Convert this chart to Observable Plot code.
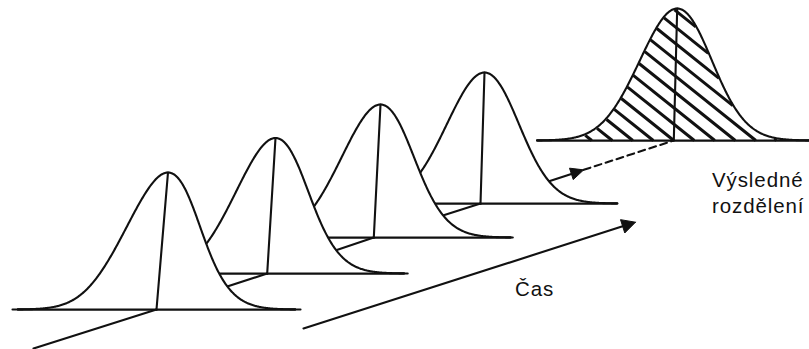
<!DOCTYPE html>
<html><head><meta charset="utf-8">
<script src="https://cdn.jsdelivr.net/npm/d3@7"></script>
<script src="https://cdn.jsdelivr.net/npm/@observablehq/plot@0.6"></script>
<style>html,body{margin:0;padding:0;background:#fff}</style>
</head><body><div id="chart"></div>
<script>
// Distributions drawn in a diagram coordinate system (809 x 349 units)
const curveNames  = ["t1", "t2", "t3", "t4", "výsledek"];
const centerX     = [156, 266.7, 373.3, 480, 673.3];
const baseY       = [309, 273, 237, 203, 140];
const peakHeight  = [137, 135.5, 133, 131, 132];
const lean        = [11.5, 8.3, 6.7, 4, 3.4];
const sigma       = [36.5, 36, 36, 36, 36];
const baseHalf    = [144, 140.5, 139, 136, 136];
const hatched     = [false, false, false, false, true];

// time axis and links
const leadStart    = [33, 348];
const arrowFrac    = 0.534;          // where the solid arrow to the result ends
const timeArrow    = [[303, 328], [635, 221.7]];
const hatchSlope   = 0.8;
const hatchStep    = 20.5;

const labelText = ["Čas", "Výsledné\nrozdělení"];
const labelX    = [514.5, 711.5];
const labelY    = [295, 212.3];

const INK = "#111";
const SW = 2.1;

function curvePoints(i) {
  const pts = [];
  for (let k = -380; k <= 380; k += 2) {
    const u = (k / 100) * sigma[i];
    const h = peakHeight[i] * Math.exp(-(u * u) / (2 * sigma[i] ** 2));
    pts.push({x: centerX[i] + u + lean[i] * h / peakHeight[i], y: baseY[i] - h});
  }
  return pts;
}

function topAt(pts, x) {
  if (x <= pts[0].x || x >= pts[pts.length - 1].x) return Infinity;
  for (let k = 1; k < pts.length; k++) {
    if (pts[k].x >= x) {
      const a = pts[k - 1], b = pts[k];
      const t = (x - a.x) / (b.x - a.x);
      return a.y + t * (b.y - a.y);
    }
  }
  return Infinity;
}

function hatchSegments(i, pts) {
  const segs = [];
  let id = 0;
  const by = baseY[i], cx = centerX[i];
  for (let j = -8; j <= 10; j++) {
    const x0 = cx + j * hatchStep;
    let run = [];
    const flush = () => {
      if (run.length > 1) {
        const a = run[0], b = run[run.length - 1];
        if (Math.hypot(b.x - a.x, b.y - a.y) > 2) { segs.push({x: a.x, y: a.y, g: id}, {x: b.x, y: b.y, g: id}); id++; }
      }
      run = [];
    };
    for (let x = x0; x >= x0 - 400; x -= 0.25) {
      const y = by + hatchSlope * (x - x0);
      const top = topAt(pts, x);
      if (y <= by + 0.01 && y >= top + 1) run.push({x, y});
      else flush();
    }
    flush();
  }
  return segs;
}

const marks = [];
const n = curveNames.length;
// back to front
for (let i = n - 1; i >= 0; i--) {
  const pts = curvePoints(i);
  const cx = centerX[i], by = baseY[i];
  // link from this curve toward the next (deeper) one, drawn before this curve's fill
  if (i === n - 2) {
    const nx = centerX[i + 1], ny = baseY[i + 1];
    const tip = {x: cx + arrowFrac * (nx - cx), y: by + arrowFrac * (ny - by)};
    marks.push(Plot.line([tip, {x: nx, y: ny}], {x: "x", y: "y", stroke: INK, strokeWidth: SW, strokeDasharray: "7 4.5"}));
    const dx = tip.x - cx, dy = tip.y - by, L = Math.hypot(dx, dy);
    const ux = dx / L, uy = dy / L;
    const hl = 13, hw = 6;
    const back = {x: tip.x - ux * hl, y: tip.y - uy * hl};
    marks.push(Plot.line([{x: cx, y: by}, back], {x: "x", y: "y", stroke: INK, strokeWidth: SW}));
    marks.push(Plot.line([tip, {x: back.x - uy * hw, y: back.y + ux * hw}, {x: back.x + uy * hw, y: back.y - ux * hw}, tip],
      {x: "x", y: "y", fill: INK, stroke: INK, strokeWidth: 1, strokeLinejoin: "miter"}));
  } else if (i < n - 2) {
    marks.push(Plot.line([{x: cx, y: by}, {x: centerX[i + 1], y: baseY[i + 1]}], {x: "x", y: "y", stroke: INK, strokeWidth: SW}));
  }
  // baseline
  marks.push(Plot.line([{x: cx - baseHalf[i], y: by}, {x: cx + baseHalf[i], y: by}], {x: "x", y: "y", stroke: INK, strokeWidth: SW}));
  // opaque area under the curve
  marks.push(Plot.line(pts, {x: "x", y: "y", fill: "white", stroke: "none"}));
  if (hatched[i]) {
    marks.push(Plot.line(hatchSegments(i, pts), {x: "x", y: "y", z: "g", stroke: INK, strokeWidth: 3, strokeLinecap: "butt"}));
  }
  marks.push(Plot.line(pts, {x: "x", y: "y", stroke: INK, strokeWidth: SW, fill: "none"}));
  // vertical (mean) line
  marks.push(Plot.line([{x: cx + lean[i], y: by - peakHeight[i]}, {x: cx, y: by}], {x: "x", y: "y", stroke: INK, strokeWidth: SW}));
  // baseline segment under the curve
  marks.push(Plot.line([{x: pts[0].x, y: by}, {x: pts[pts.length - 1].x, y: by}], {x: "x", y: "y", stroke: INK, strokeWidth: SW}));
}
// lead-in line to the first curve
marks.push(Plot.line([{x: leadStart[0], y: leadStart[1]}, {x: centerX[0], y: baseY[0]}], {x: "x", y: "y", stroke: INK, strokeWidth: SW}));

// time arrow
{
  const [a, b] = timeArrow;
  const dx = b[0] - a[0], dy = b[1] - a[1], L = Math.hypot(dx, dy);
  const ux = dx / L, uy = dy / L, hl = 13.5, hw = 7;
  const back = {x: b[0] - ux * hl, y: b[1] - uy * hl};
  marks.push(Plot.line([{x: a[0], y: a[1]}, back], {x: "x", y: "y", stroke: INK, strokeWidth: SW}));
  marks.push(Plot.line([{x: b[0], y: b[1]}, {x: back.x - uy * hw, y: back.y + ux * hw}, {x: back.x + uy * hw, y: back.y - ux * hw}, {x: b[0], y: b[1]}],
    {x: "x", y: "y", fill: INK, stroke: INK, strokeWidth: 1}));
}

const labels = labelText.map((t, i) => ({t, x: labelX[i], y: labelY[i]}));
marks.push(Plot.text(labels, {x: "x", y: "y", text: "t", textAnchor: "start", lineAnchor: "bottom",
  fontSize: 20.5, lineHeight: 1.25, fill: INK, fontFamily: "Liberation Sans, Arial, sans-serif"}));

const chart = Plot.plot({
  width: 809, height: 349,
  margin: 0,
  x: {domain: [0, 809], range: [0, 809], axis: null},
  y: {domain: [0, 349], range: [0, 349], axis: null},
  style: {background: "#fff", letterSpacing: "0.9px", overflow: "hidden"},
  marks
});
document.getElementById("chart").appendChild(chart);
</script>
</body></html>
